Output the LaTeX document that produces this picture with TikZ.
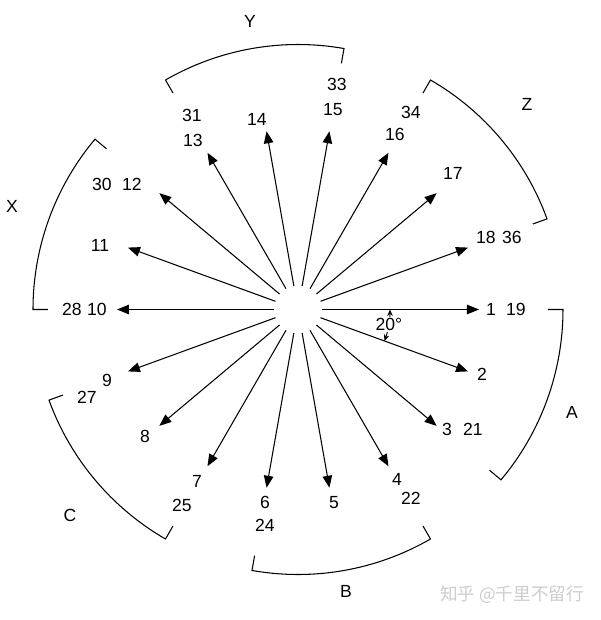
\documentclass[tikz,border=0pt]{standalone}
\usepackage{fontspec}
\setmainfont{Liberation Sans}
\newfontfamily\cjkfont{Noto Sans CJK SC}
\usetikzlibrary{arrows.meta}

\begin{document}
\begin{tikzpicture}[
  x=0.02cm,y=0.02cm,
  >={Triangle[length=2.4mm,width=1.9mm]},
  ray/.style={->,line width=0.6pt},
  brk/.style={line width=0.6pt},
  num/.style={font=\fontsize{10}{12}\selectfont,inner sep=0pt},
  grp/.style={font=\fontsize{10}{12}\selectfont,inner sep=0pt},
  angarc/.style={line width=0.5pt,{Stealth[length=1.3mm,width=1.1mm]}-{Stealth[length=1.3mm,width=1.1mm]}},
  wmark/.style={font=\cjkfont\fontsize{10}{12}\selectfont,text=black!20,inner sep=0pt}
]
\useasboundingbox (-298,-310.5) rectangle (302,309.5);

% Rays, one every 20 degrees, leaving a hole in the middle
\coordinate (c) at (0,0);
\coordinate (s1) at (0:24);    \coordinate (t1) at (0:181);    \draw[ray] (s1) -- (t1);
\coordinate (s2) at (-20:24);  \coordinate (t2) at (-20:181);  \draw[ray] (s2) -- (t2);
\coordinate (s3) at (-40:24);  \coordinate (t3) at (-40:181);  \draw[ray] (s3) -- (t3);
\coordinate (s4) at (-60:24);  \coordinate (t4) at (-60:181);  \draw[ray] (s4) -- (t4);
\coordinate (s5) at (-80:24);  \coordinate (t5) at (-80:181);  \draw[ray] (s5) -- (t5);
\coordinate (s6) at (-100:24); \coordinate (t6) at (-100:181); \draw[ray] (s6) -- (t6);
\coordinate (s7) at (-120:24); \coordinate (t7) at (-120:181); \draw[ray] (s7) -- (t7);
\coordinate (s8) at (-140:24); \coordinate (t8) at (-140:181); \draw[ray] (s8) -- (t8);
\coordinate (s9) at (-160:24); \coordinate (t9) at (-160:181); \draw[ray] (s9) -- (t9);
\coordinate (s10) at (180:24); \coordinate (t10) at (180:181); \draw[ray] (s10) -- (t10);
\coordinate (s11) at (160:24); \coordinate (t11) at (160:181); \draw[ray] (s11) -- (t11);
\coordinate (s12) at (140:24); \coordinate (t12) at (140:181); \draw[ray] (s12) -- (t12);
\coordinate (s13) at (120:24); \coordinate (t13) at (120:181); \draw[ray] (s13) -- (t13);
\coordinate (s14) at (100:24); \coordinate (t14) at (100:181); \draw[ray] (s14) -- (t14);
\coordinate (s15) at (80:24);  \coordinate (t15) at (80:181);  \draw[ray] (s15) -- (t15);
\coordinate (s16) at (60:24);  \coordinate (t16) at (60:181);  \draw[ray] (s16) -- (t16);
\coordinate (s17) at (40:24);  \coordinate (t17) at (40:181);  \draw[ray] (s17) -- (t17);
\coordinate (s18) at (20:24);  \coordinate (t18) at (20:181);  \draw[ray] (s18) -- (t18);

% Angle between ray 1 and ray 2
\coordinate (a0) at (0:92);
\draw[angarc] (a0) arc[start angle=0,end angle=-20,radius=92];
\node[num,fill=white,inner sep=0.6pt] (ang) at (91,-15) {20°};

% Ray labels (second number = second turn)
\node[num] (l1) at (193,0) {1};      \node[num] (l19) at (218,0) {19};
\node[num] (l2) at (184,-65) {2};
\node[num] (l3) at (149,-120) {3};   \node[num] (l21) at (175,-120) {21};
\node[num] (l4) at (99,-170) {4};    \node[num] (l22) at (113,-189) {22};
\node[num] (l5) at (36,-193) {5};
\node[num] (l6) at (-33,-193) {6};   \node[num] (l24) at (-33,-216) {24};
\node[num] (l7) at (-101,-172) {7};  \node[num] (l25) at (-116,-196) {25};
\node[num] (l8) at (-153,-127) {8};
\node[num] (l9) at (-191,-71) {9};   \node[num] (l27) at (-211,-88) {27};
\node[num] (l10) at (-201,0) {10};   \node[num] (l28) at (-226,0) {28};
\node[num] (l11) at (-198,64) {11};
\node[num] (l12) at (-166,125) {12}; \node[num] (l30) at (-196,125) {30};
\node[num] (l13) at (-105,169) {13}; \node[num] (l31) at (-106,194) {31};
\node[num] (l14) at (-41,190) {14};
\node[num] (l15) at (35,200) {15};   \node[num] (l33) at (39,225) {33};
\node[num] (l16) at (97,175) {16};   \node[num] (l34) at (113,197) {34};
\node[num] (l17) at (155,136) {17};
\node[num] (l18) at (188,72) {18};   \node[num] (l36) at (214,72) {36};

% Group brackets
\draw[brk] (0:250) -- (0:265) arc[start angle=0,end angle=-40,radius=265] -- (-40:250);
\draw[brk] (-60:250) -- (-60:265) arc[start angle=-60,end angle=-100,radius=265] -- (-100:250);
\draw[brk] (-120:250) -- (-120:265) arc[start angle=-120,end angle=-160,radius=265] -- (-160:250);
\draw[brk] (140:250) -- (140:265) arc[start angle=140,end angle=180,radius=265] -- (180:250);
\draw[brk] (80:250) -- (80:265) arc[start angle=80,end angle=120,radius=265] -- (120:250);
\draw[brk] (20:250) -- (20:265) arc[start angle=20,end angle=60,radius=265] -- (60:250);

\node[grp] (gA) at (274,-103) {A};
\node[grp] (gB) at (48,-282) {B};
\node[grp] (gC) at (-228,-206) {C};
\node[grp] (gX) at (-286,103) {X};
\node[grp] (gY) at (-48,288) {Y};
\node[grp] (gZ) at (229,205) {Z};

% Watermark
\node[wmark] (wm) at (214,-285) {知乎 @千里不留行};

\end{tikzpicture}
\end{document}
